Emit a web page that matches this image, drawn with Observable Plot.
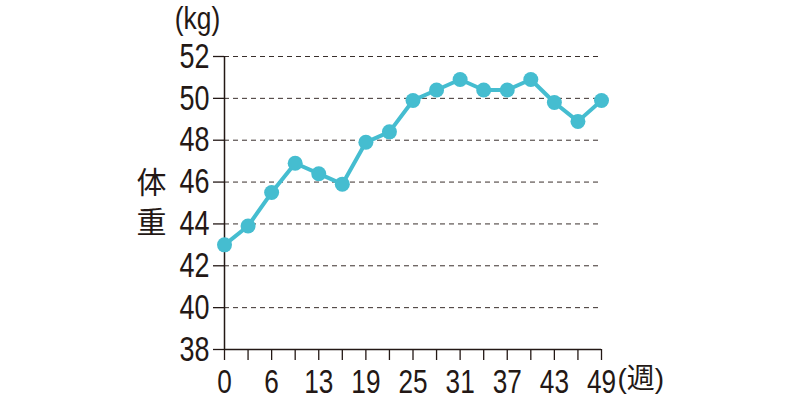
<!DOCTYPE html>
<html><head><meta charset="utf-8">
<script src="https://cdn.jsdelivr.net/npm/d3@7"></script>
<script src="https://cdn.jsdelivr.net/npm/@observablehq/plot@0.6"></script>
<style>body{margin:0;background:#fff} svg{display:block}</style>
</head><body><div id="chart"></div>
<script>
const weeks = [0,3,6,10,13,16,19,22,25,28,31,34,37,40,43,46,49];
const weights = [43,43.9,45.5,46.9,46.4,45.9,47.9,48.4,49.9,50.4,50.9,50.4,50.4,50.9,49.8,48.9,49.9];
const weekTicks = [0,6,13,19,25,31,37,43,49];
const weightTicks = [38,40,42,44,46,48,50,52];
const data = weeks.map((w,i)=>({week:w, weight:weights[i]}));
const ink = "#231815";
const teal = "#45bdd0";
const font = "'Liberation Sans', Arial, sans-serif";
const cjk = "'Liberation Sans', 'Noto Sans CJK JP', sans-serif";
const chart = Plot.plot({
  width: 800, height: 398,
  marginLeft: 224, marginRight: 199, marginTop: 56, marginBottom: 49,
  style: {fontFamily: font, fontSize: "35px", color: ink, background: "#fff", overflow: "visible"},
  x: {type: "point", domain: weeks, padding: 0, round: false, range: [224, 601]},
  y: {domain: [38, 52], range: [349, 56]},
  marks: [
    Plot.gridY(weightTicks.filter(d => d > 38), {stroke: ink, strokeOpacity: 0.9, strokeDasharray: "5,4", strokeWidth: 1}),
    Plot.axisY(weightTicks, {tickSize: 11, tickPadding: 4, stroke: ink, strokeWidth: 1.3, label: null, fontSize: 35, fill: ink}),
    Plot.axisX(weeks, {tickSize: 11, text: null, label: null, stroke: ink, strokeWidth: 1.3}),
    Plot.axisX(weekTicks, {tickSize: 0, tickPadding: 19, label: null, fontSize: 34, fill: ink}),
    Plot.ruleX([0], {stroke: ink, strokeWidth: 1.5}),
    Plot.ruleY([38], {stroke: ink, strokeWidth: 1.5}),
    Plot.line(data, {x: "week", y: "weight", stroke: teal, strokeWidth: 4}),
    Plot.dot(data, {x: "week", y: "weight", r: 7.5, fill: teal, stroke: "none"}),
    Plot.text(["(kg)"], {frameAnchor: "top-left", text: d => d, dx: -27, dy: -37, textAnchor: "middle", lineAnchor: "middle", fontSize: 31, fill: ink}),
    Plot.text(["体\n重"], {frameAnchor: "left", text: d => d, dx: -73, dy: -3, textAnchor: "middle", lineHeight: 1.33, fontSize: 30, fontFamily: cjk, fill: ink}),
    Plot.text(["(週)"], {frameAnchor: "bottom-right", text: d => d, dx: 16, dy: 38, textAnchor: "start", fontSize: 28, fontFamily: cjk, fill: ink})
  ]
});
// condense the Latin labels horizontally (no condensed font is installed)
chart.querySelectorAll("text").forEach(t => {
  if (/[\u3000-\u9fff]/.test(t.textContent)) return;
  const s = t.textContent === "(kg)" ? 0.85 : 0.77;
  const x = +(t.getAttribute("x") || 0);
  const tr = t.getAttribute("transform") || "";
  t.setAttribute("transform", `${tr} translate(${x},0) scale(${s},1) translate(${-x},0)`);
});
document.getElementById("chart").append(chart);
</script>
</body></html>
